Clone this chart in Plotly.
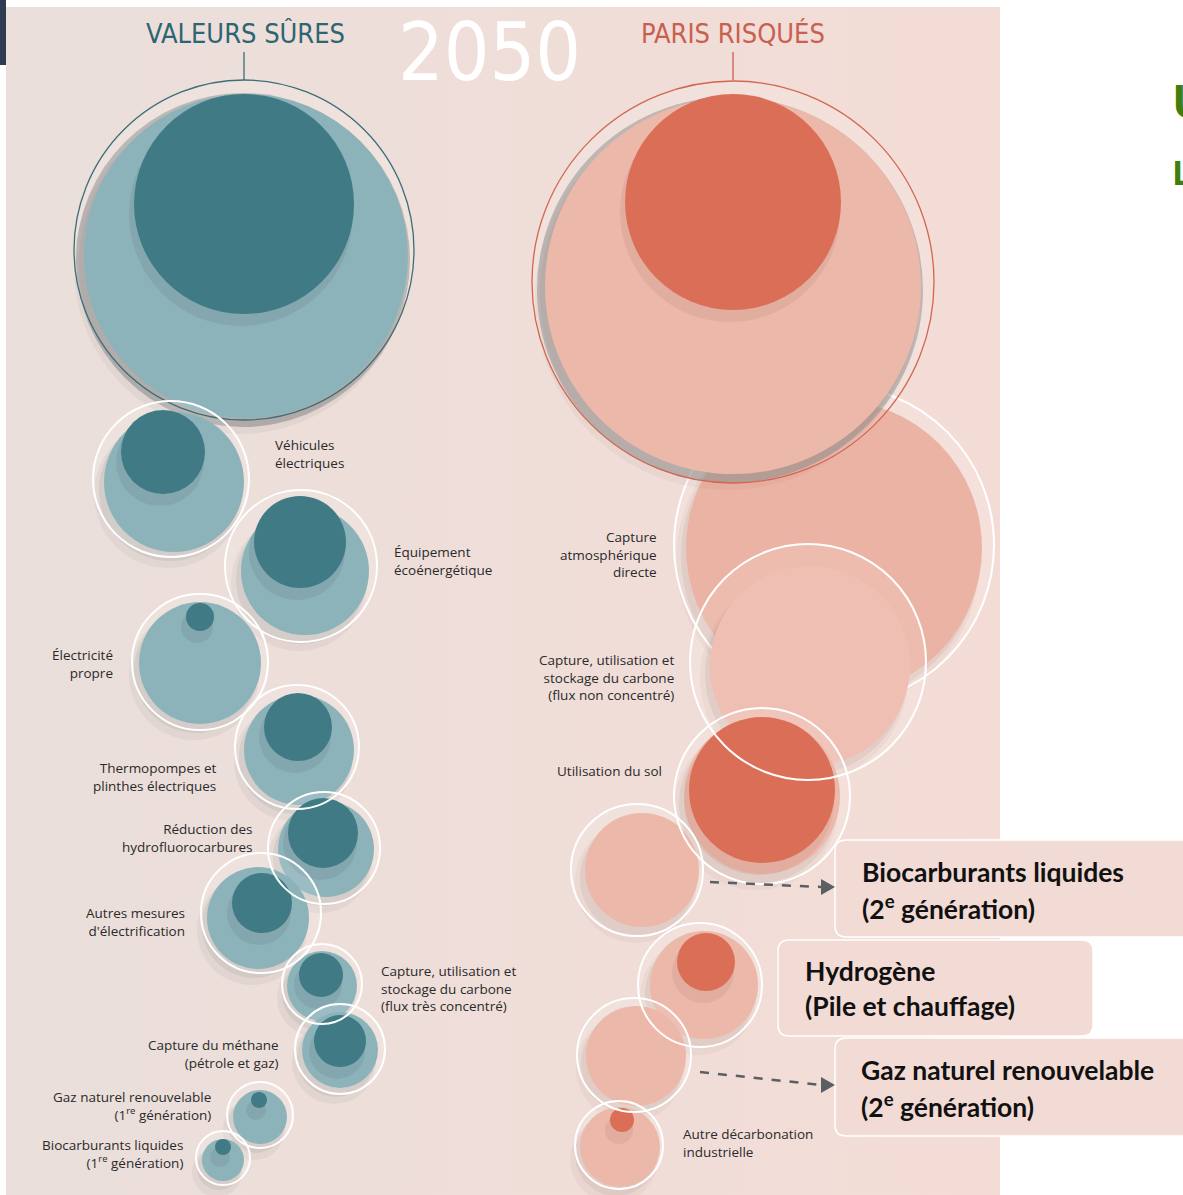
import plotly.graph_objects as go

# ---- valeurs (rayons, en px) -------------------------------------------------
sure_labels = [
    "", "Véhicules<br>électriques", "Équipement<br>écoénergétique",
    "Électricité<br>propre", "Thermopompes et<br>plinthes électriques",
    "Réduction des<br>hydrofluorocarbures", "Autres mesures<br>d'électrification",
    "Capture, utilisation et<br>stockage du carbone<br>(flux très concentré)",
    "Capture du méthane<br>(pétrole et gaz)",
    "Gaz naturel renouvelable<br>(1<sup>re</sup> génération)",
    "Biocarburants liquides<br>(1<sup>re</sup> génération)",
]
sure_ring = [170, 78, 76, 68, 62, 56, 60, 40, 45, 33, 27]
sure_light = [162, 70, 64, 61, 55, 48, 51, 35, 38, 27, 21]
sure_dark = [110, 42, 46, 14, 34, 35, 30, 22, 26, 8, 8]

risque_labels = [
    "", "Capture<br>atmosphérique<br>directe",
    "Capture, utilisation et<br>stockage du carbone<br>(flux non concentré)",
    "Utilisation du sol", "", "", "",
    "Autre décarbonation<br>industrielle",
]
risque_ring = [201, 160, 118, 88, 66, 62, 57, 44]
risque_light = [188, 148, 100, 78, 57, 54, 50, 40]
risque_dark = [108, 0, 0, 73, 0, 29, 0, 12]

encadres = [
    ["Biocarburants liquides", "(2<sup>e</sup> génération)"],
    ["Hydrogène", "(Pile et chauffage)"],
    ["Gaz naturel renouvelable", "(2<sup>e</sup> génération)"],
]

# ---- mise en page (positions en px) -----------------------------------------
sure_pos = [(244, 250), (171, 479), (301, 566), (200, 662), (297, 747), (324, 848),
            (261, 913), (322, 984), (340, 1049), (260, 1115), (223, 1158)]
sure_light_pos = [(246, 256), (174, 482), (305, 571), (200, 663), (299, 750), (326, 849),
                  (258, 918), (322, 986), (340, 1050), (260, 1117), (223, 1160)]
sure_dark_pos = [(244, 204), (163, 452), (300, 542), (200, 617), (298, 727), (323, 833),
                 (262, 903), (321, 975), (340, 1041), (259, 1100), (223, 1147)]
sure_lab = [None, (273, 454, "left"), (392, 561, "left"), (115, 664, "right"),
            (218, 777, "right"), (255, 838, "right"), (187, 922, "right"),
            (379, 988, "left"), (281, 1054, "right"), (213, 1106, "right"),
            (185, 1154, "right")]

risque_pos = [(733, 282), (834, 545), (808, 662), (762, 796), (637, 870), (700, 985),
              (634, 1055), (619, 1145)]
risque_light_pos = [(733, 286), (834, 548), (810, 666), (762, 796), (642, 870),
                    (704, 985), (636, 1056), (620, 1147)]
risque_dark_pos = [(733, 202), (0, 0), (0, 0), (762, 790), (0, 0), (706, 962), (0, 0),
                   (622, 1120)]
risque_lab = [None, (659, 554, "right"), (676, 677, "right"), (664, 771, "right"),
              None, None, None, (681, 1143, "left")]

boites = [(835, 840, 1195, 937), (778, 940, 1093, 1036), (835, 1038, 1195, 1136)]
boites_txt = [(860, 872), (803, 971), (859, 1070)]

W, H = 1183, 1195
TEAL_L, TEAL_D = "#8db3ba", "#3f7a85"
CORAL_L, CORAL_D = "#ecb8a9", "#db6e56"


def circle(cx, cy, r, **kw):
    return dict(type="circle", xref="x", yref="y",
                x0=cx - r, x1=cx + r, y0=cy - r, y1=cy + r, **kw)


def fills(pos, lpos, dpos, ring, light, dark, cl, cd, big=False, shade="80,70,70"):
    s = []
    cx, cy = pos
    lx, ly = lpos
    s.append(circle(cx, cy, ring, fillcolor="rgba(255,255,255,0.12)", line_width=0))
    s.append(circle(lx - 6, ly + 12, light + 4, fillcolor=f"rgba({shade},0.05)", line_width=0))
    s.append(circle(lx - 4, ly + 8, light + 1, fillcolor=f"rgba({shade},0.08)", line_width=0))
    if big:
        s.append(circle(lx - 3, ly + 4, light + 5, fillcolor="rgba(140,140,140,0.5)", line_width=0))
    s.append(circle(lx, ly, light, fillcolor=cl, line_width=0))
    if dark:
        dx, dy = dpos
        s.append(circle(dx - 3, dy + 10, dark + 2, fillcolor=f"rgba({shade},0.09)", line_width=0))
        s.append(circle(dx, dy, dark, fillcolor=cd, line_width=0))
    return s


def ring_line(pos, r, color="white", width=2):
    return circle(pos[0], pos[1], r, fillcolor="rgba(0,0,0,0)", line=dict(color=color, width=width))


def rrect(x0, y0, x1, y1, r=10):
    return (f"M{x0 + r},{y0} L{x1 - r},{y0} Q{x1},{y0} {x1},{y0 + r} L{x1},{y1 - r} "
            f"Q{x1},{y1} {x1 - r},{y1} L{x0 + r},{y1} Q{x0},{y1} {x0},{y1 - r} "
            f"L{x0},{y0 + r} Q{x0},{y0} {x0 + r},{y0} Z")


fig = go.Figure()

# fond de l'infographie
fig.add_trace(go.Scatter(
    x=[6, 1000, 1000, 6, 6], y=[7, 7, H, H, 7], mode="lines", fill="toself",
    line_width=0, hoverinfo="skip", showlegend=False,
    fillgradient=dict(type="horizontal", colorscale=[[0, "#eadfdb"], [1, "#f4dcd6"]]),
))

shapes = [dict(type="rect", xref="x", yref="y", x0=0, x1=6, y0=0, y1=65,
               fillcolor="#2e3b50", line_width=0)]

# colonne gauche : valeurs sûres
for i in range(len(sure_ring)):
    shapes += fills(sure_pos[i], sure_light_pos[i], sure_dark_pos[i], sure_ring[i],
                    sure_light[i], sure_dark[i], TEAL_L, TEAL_D, big=(i == 0),
                    shade="40,60,65")
shapes.append(ring_line(sure_pos[0], sure_ring[0], "#3d6e78", 1.3))
for i in range(1, len(sure_ring)):
    shapes.append(ring_line(sure_pos[i], sure_ring[i]))

# colonne droite : paris risqués
shapes += fills(risque_pos[1], risque_light_pos[1], risque_dark_pos[1], risque_ring[1],
                risque_light[1], risque_dark[1], "#ebb3a3", CORAL_D, shade="110,70,60")
shapes.append(ring_line(risque_pos[1], risque_ring[1]))
shapes += fills(risque_pos[0], risque_light_pos[0], risque_dark_pos[0], risque_ring[0],
                risque_light[0], risque_dark[0], CORAL_L, CORAL_D, big=True, shade="110,70,60")
shapes.append(ring_line(risque_pos[0], risque_ring[0], "#d26651", 1.3))
for i in range(2, len(risque_ring)):
    cl = "#eebfb2" if i == 2 else CORAL_L
    shapes += fills(risque_pos[i], risque_light_pos[i], risque_dark_pos[i], risque_ring[i],
                    risque_light[i], risque_dark[i], cl, CORAL_D, shade="110,70,60")
for i in range(2, len(risque_ring)):
    shapes.append(ring_line(risque_pos[i], risque_ring[i]))

# traits sous les titres
shapes.append(dict(type="line", xref="x", yref="y", x0=244, x1=244, y0=52, y1=80,
                   line=dict(color="#3d6e78", width=1.3)))
shapes.append(dict(type="line", xref="x", yref="y", x0=733, x1=733, y0=52, y1=80,
                   line=dict(color="#c8604f", width=1.3)))

# encadrés
for (x0, y0, x1, y1) in boites:
    shapes.append(dict(type="path", xref="x", yref="y", path=rrect(x0, y0, x1, y1, 11),
                       fillcolor="#f2dbd4", line=dict(color="white", width=1.5)))

# flèches pointillées
for (xa, ya, xb, yb) in [(710, 882, 821, 887), (700, 1072, 821, 1085)]:
    shapes.append(dict(type="line", xref="x", yref="y", x0=xa, y0=ya, x1=xb, y1=yb,
                       line=dict(color="#5a5f63", width=2.5, dash="dash")))
    shapes.append(dict(type="path", xref="x", yref="y",
                       path=f"M{xb},{yb - 8} L{xb + 14},{yb} L{xb},{yb + 8} Z",
                       fillcolor="#5a5f63", line_width=0))

fig.update_layout(shapes=shapes)

ann = []
lab_font = dict(family="Open Sans, sans-serif", size=13.5, color="#2a2a2a")
for labels, pos in [(sure_labels, sure_lab), (risque_labels, risque_lab)]:
    for t, p in zip(labels, pos):
        if p is None:
            continue
        x, y, a = p
        ann.append(dict(x=x, y=y, text=t, showarrow=False, xanchor=a, yanchor="middle",
                        align=a, font=lab_font))

# titres
cond = "DejaVu Sans Condensed, sans-serif"
ann.append(dict(x=245, y=33, text="VALEURS SÛRES", showarrow=False, yanchor="middle",
                font=dict(family=cond, size=27, color="#2d6572")))
ann.append(dict(x=733, y=33, text="PARIS RISQUÉS", showarrow=False, yanchor="middle",
                font=dict(family=cond, size=27, color="#c8604f")))
ann.append(dict(x=489, y=52, text="2050", showarrow=False, yanchor="middle",
                font=dict(family=cond, size=80, color="white")))

# texte des encadrés
box_font = dict(family="Lato, Open Sans, sans-serif", size=26.5, color="#111111", weight="bold")
for (x, y), lignes in zip(boites_txt, encadres):
    for k, l in enumerate(lignes):
        ann.append(dict(x=x, y=y + 35 * k, text=l, showarrow=False, xanchor="left",
                        yanchor="middle", font=box_font))

# lettres vertes coupées à droite
ann.append(dict(x=1170, y=100, text="U", showarrow=False, xanchor="left", yanchor="middle",
                font=dict(family="Open Sans, sans-serif", size=46, color="#3f7f0f", weight="bold")))
ann.append(dict(x=1170, y=172, text="L", showarrow=False, xanchor="left", yanchor="middle",
                font=dict(family="Open Sans, sans-serif", size=34, color="#3f7f0f", weight="bold")))

fig.update_layout(
    annotations=ann,
    width=W, height=H,
    margin=dict(l=0, r=0, t=0, b=0),
    paper_bgcolor="white", plot_bgcolor="white",
    xaxis=dict(range=[0, W], visible=False, fixedrange=True),
    yaxis=dict(range=[H, 0], visible=False, fixedrange=True),
    showlegend=False,
)

fig.write_html("out.html", config={"displayModeBar": False},
               post_script="document.body.style.margin='0';")
